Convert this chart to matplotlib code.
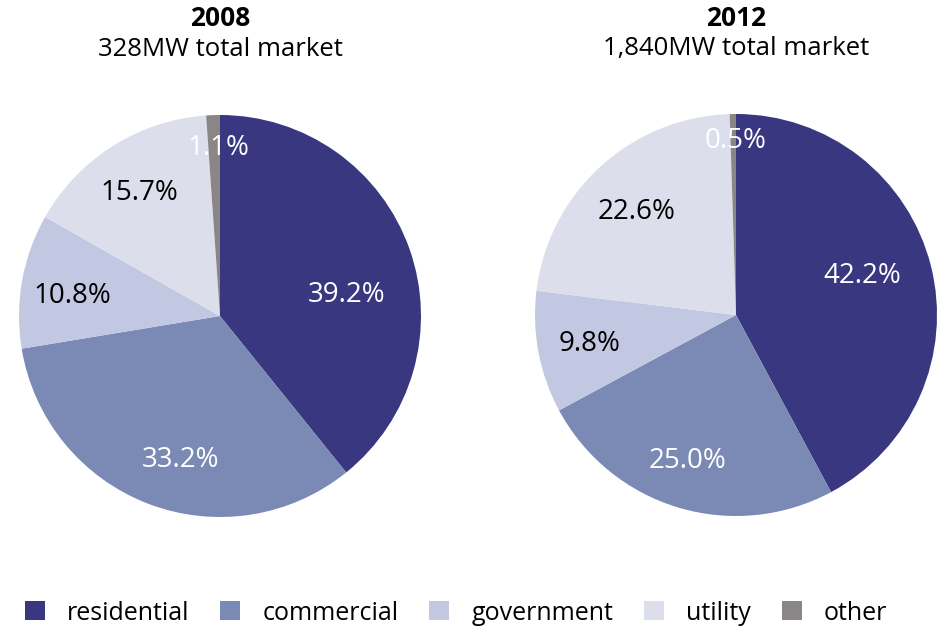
import matplotlib
matplotlib.use("Agg")
import matplotlib.pyplot as plt
from matplotlib.patches import Patch
import numpy as np

categories = ["residential", "commercial", "government", "utility", "other"]
years = ["2008", "2012"]
subtitles = ["328MW total market", "1,840MW total market"]
values_2008 = [39.2, 33.2, 10.8, 15.7, 1.1]
values_2012 = [42.2, 25.0, 9.8, 22.6, 0.5]

# styles
colors = ["#383780", "#7a8ab5", "#c3c8e2", "#dcdeec", "#8a8685"]
label_colors = ["white", "white", "black", "black", "white"]
label_radii_2008 = [0.64, 0.73, 0.745, 0.745, 0.85]
label_radii_2012 = [0.66, 0.75, 0.74, 0.725, 0.88]
label_angle_shift_2008 = [-8.6, 5.4, 1.2, 0.2, -1.3]
label_angle_shift_2012 = [4.4, -2.1, -0.7, 0.7, -0.6]

plt.rcParams["font.family"] = ["Open Sans", "DejaVu Sans"]

W, H = 945, 643
fig = plt.figure(figsize=(W / 100, H / 100), dpi=100)


def draw(cx, cy, values, radii, shifts, year, sub):
    r = 201
    ax = fig.add_axes([(cx - r) / W, (H - cy - r) / H, 2 * r / W, 2 * r / H])
    wedges, _ = ax.pie(values, colors=colors, startangle=90, counterclock=False,
                       radius=1.0, wedgeprops=dict(linewidth=0))
    for w, v, rr, sh, c in zip(wedges, values, radii, shifts, label_colors):
        ang = np.deg2rad((w.theta1 + w.theta2) / 2 + sh)
        ax.text(rr * np.cos(ang), rr * np.sin(ang) - 0.015, f"{v:.1f}%",
                ha="center", va="center", color=c, fontsize=20)
    ax.set_xlim(-1, 1)
    ax.set_ylim(-1, 1)
    ax.set_aspect("equal")
    ax.axis("off")
    fig.text(cx / W, 1 - 18 / H, year, ha="center", va="center", fontsize=19,
             fontweight="bold")
    fig.text(cx / W, 1 - 49 / H, sub, ha="center", va="center", fontsize=18.5)


draw(220, 316, values_2008, label_radii_2008, label_angle_shift_2008, years[0], subtitles[0])
draw(736, 315, values_2012, label_radii_2012, label_angle_shift_2012, years[1], subtitles[1])

handles = [Patch(facecolor=c, edgecolor="none") for c in colors]
fig.legend(handles, categories, loc="center", bbox_to_anchor=(456 / W, 1 - 613 / H),
           ncol=5, frameon=False, prop={"size": 18},
           handlelength=0.8, handleheight=0.8, handletextpad=0.88,
           columnspacing=1.24, borderpad=0, borderaxespad=0)

fig.savefig("out.png", dpi=100)
